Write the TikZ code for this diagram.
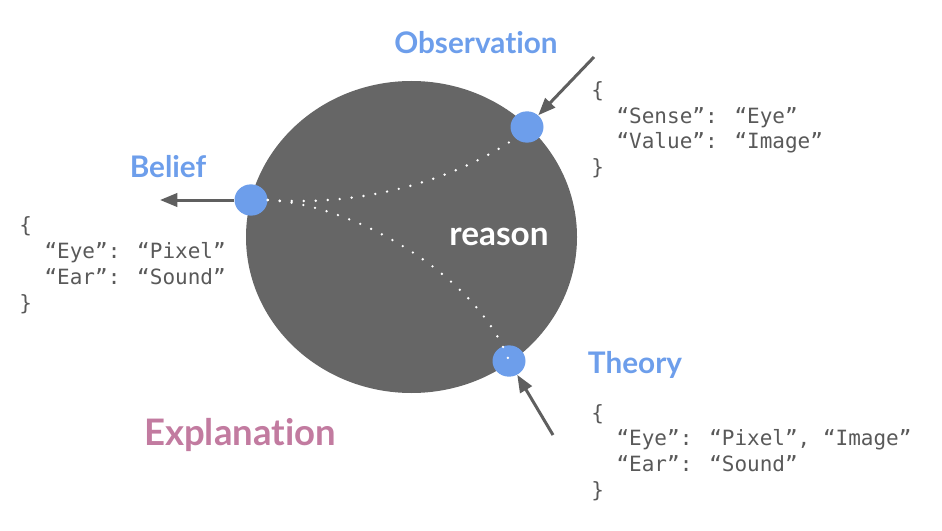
\documentclass[tikz,border=0pt]{standalone}
\usepackage{fontspec}
\setmainfont{Lato}[Ligatures=NoCommon]
\newfontfamily\codefont{DejaVu Sans Mono}
\usetikzlibrary{shapes.geometric, arrows.meta}
\definecolor{discgray}{HTML}{666666}
\definecolor{dotblue}{HTML}{6D9EEB}
\definecolor{explpink}{HTML}{C27BA0}
\definecolor{arrowgray}{HTML}{5F5F5F}
\definecolor{codegray}{HTML}{595959}
\begin{document}
\begin{tikzpicture}[x=0.75pt,y=-0.75pt,
  disc/.style={ellipse, fill=discgray, minimum width=248.25pt, minimum height=234pt, inner sep=0pt},
  port/.style={ellipse, fill=dotblue, minimum width=24.75pt, minimum height=23.5pt, inner sep=0pt},
  lbl/.style={font=\bfseries\fontsize{22.3}{26}\selectfont, text=dotblue, inner sep=0pt, anchor=base},
  code/.style={font=\codefont\fontsize{15.75}{19.3}\selectfont, text=codegray, align=left, anchor=base west, inner sep=0pt},
  flow/.style={draw=arrowgray, line width=2.25pt, -{Triangle[length=13pt,width=10pt]}},
  trail/.style={draw=white, line width=2pt, line cap=round, dash pattern=on 0pt off 9pt},
]
\useasboundingbox (0,0) rectangle (942,531);

\node[disc] (reasondisc) at (411.5,237) {};
\node[font=\bfseries\fontsize{25}{30}\selectfont, text=white, inner sep=0pt, anchor=base] (reasontxt) at (499,245) {reason};

\node[port] (bel) at (251,200) {};
\node[port] (obs) at (527,127) {};
\node[port] (th) at (509,361) {};

\draw[trail] (bel.east) .. controls (380,208) and (470,170) .. (obs.south west);
\draw[trail] (bel.east) .. controls (360,205) and (480,280) .. (th.center);

\coordinate (belEnd) at (160,200);
\coordinate (obsStart) at (594,57);
\coordinate (thStart) at (553,435);
\draw[flow] (bel) -- (belEnd);
\draw[flow] (obsStart) -- (obs);
\draw[flow] (thStart) -- (th);

\node[lbl] (obslbl) at (476,54) {Observation};
\node[lbl] (bellbl) at (168,177) {Belief};
\node[lbl] (thlbl) at (635,373) {Theory};
\node[font=\bfseries\fontsize{27.4}{32}\selectfont, text=explpink, inner sep=0pt, anchor=base] (expl) at (240,445) {Explanation};

\node[code] (obscode) at (591,174.7) {\{\\\phantom{xx}“Sense”: “Eye”\\\phantom{xx}“Value”: “Image”\\\}};
\node[code] (belcode) at (19,310) {\{\\\phantom{xx}“Eye”: “Pixel”\\\phantom{xx}“Ear”: “Sound”\\\}};
\node[code] (thcode) at (591,497.3) {\{\\\phantom{xx}“Eye”: “Pixel”, “Image”\\\phantom{xx}“Ear”: “Sound”\\\}};
\end{tikzpicture}
\end{document}
